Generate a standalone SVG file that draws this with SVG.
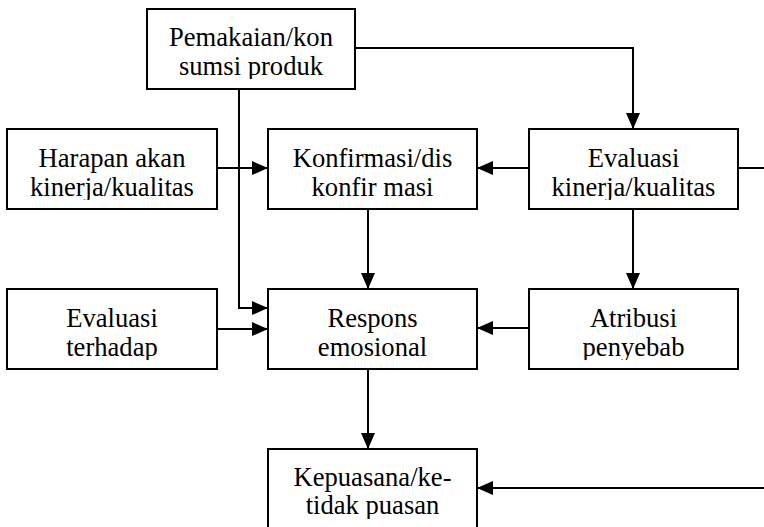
<svg xmlns="http://www.w3.org/2000/svg" width="764" height="527" viewBox="0 0 764 527">
<style>
.box{fill:#fff;stroke:#000;stroke-width:2}
.lbl{font-family:"Liberation Serif","Times New Roman",serif;font-size:26.6px;fill:#000;text-anchor:middle}
.con{fill:none;stroke:#000;stroke-width:2}
</style>
<defs>
<marker id="ah" markerUnits="userSpaceOnUse" markerWidth="17" markerHeight="14" refX="16" refY="7" orient="auto">
<path d="M0,0 L16,7 L0,14 Z" fill="#000"/>
</marker>
<clipPath id="c1"><rect x="147" y="9" width="208" height="70"/></clipPath>
<clipPath id="c2"><rect x="7" y="129" width="210" height="71"/></clipPath>
<clipPath id="c3"><rect x="268" y="129" width="209" height="71"/></clipPath>
<clipPath id="c4"><rect x="529" y="129" width="209" height="71"/></clipPath>
<clipPath id="c5"><rect x="7" y="289" width="210" height="71"/></clipPath>
<clipPath id="c6"><rect x="268" y="289" width="209" height="71"/></clipPath>
<clipPath id="c7"><rect x="529" y="289" width="209" height="71"/></clipPath>
<clipPath id="c8"><rect x="268" y="449" width="209" height="70"/></clipPath>
</defs>
<g id="connectors">
<path class="con" d="M355,48 H633 V129" marker-end="url(#ah)"/>
<path class="con" d="M239,89 V308 H268" marker-end="url(#ah)"/>
<path class="con" d="M217,168 H268" marker-end="url(#ah)"/>
<path class="con" d="M529,168 H477" marker-end="url(#ah)"/>
<path class="con" d="M738,168 H764"/>
<path class="con" d="M368,209 V289" marker-end="url(#ah)"/>
<path class="con" d="M633,209 V289" marker-end="url(#ah)"/>
<path class="con" d="M217,329 H268" marker-end="url(#ah)"/>
<path class="con" d="M529,328 H477" marker-end="url(#ah)"/>
<path class="con" d="M368,369 V449" marker-end="url(#ah)"/>
<path class="con" d="M764,488 H477" marker-end="url(#ah)"/>
</g>
<g id="pemakaian">
<rect class="box" x="147" y="9" width="208" height="80"/>
<g clip-path="url(#c1)"><text class="lbl" x="251" y="46">Pemakaian/kon</text><text class="lbl" x="251" y="75">sumsi produk</text></g>
</g>
<g id="harapan">
<rect class="box" x="7" y="129" width="210" height="80"/>
<g clip-path="url(#c2)"><text class="lbl" x="112" y="167">Harapan akan</text><text class="lbl" x="112" y="195.5">kinerja/kualitas</text></g>
</g>
<g id="konfirmasi">
<rect class="box" x="268" y="129" width="209" height="80"/>
<g clip-path="url(#c3)"><text class="lbl" x="372.5" y="167">Konfirmasi/dis</text><text class="lbl" x="372.5" y="195.5">konfir masi</text></g>
</g>
<g id="evaluasi-kinerja">
<rect class="box" x="529" y="129" width="209" height="80"/>
<g clip-path="url(#c4)"><text class="lbl" x="633.5" y="167">Evaluasi</text><text class="lbl" x="633.5" y="195.5">kinerja/kualitas</text></g>
</g>
<g id="evaluasi-terhadap">
<rect class="box" x="7" y="289" width="210" height="80"/>
<g clip-path="url(#c5)"><text class="lbl" x="112" y="327">Evaluasi</text><text class="lbl" x="112" y="355.5">terhadap</text></g>
</g>
<g id="respons">
<rect class="box" x="268" y="289" width="209" height="80"/>
<g clip-path="url(#c6)"><text class="lbl" x="372.5" y="327">Respons</text><text class="lbl" x="372.5" y="355.5">emosional</text></g>
</g>
<g id="atribusi">
<rect class="box" x="529" y="289" width="209" height="80"/>
<g clip-path="url(#c7)"><text class="lbl" x="633.5" y="327">Atribusi</text><text class="lbl" x="633.5" y="355.5">penyebab</text></g>
</g>
<g id="kepuasan">
<rect class="box" x="268" y="449" width="209" height="90"/>
<g clip-path="url(#c8)"><text class="lbl" x="372.5" y="486">Kepuasana/ke-</text><text class="lbl" x="372.5" y="514">tidak puasan</text></g>
</g>
</svg>
